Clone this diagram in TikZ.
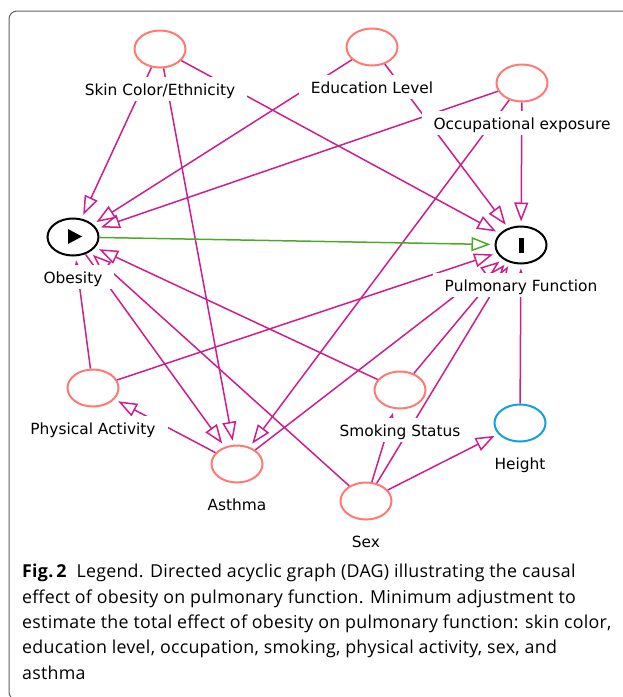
\documentclass[tikz,border=0pt]{standalone}
\usepackage{fontspec}
\setmainfont{Open Sans}[LetterSpace=1.5]
\newfontfamily\dagfont{DejaVu Sans}
\usepackage{tikz}
\usetikzlibrary{positioning, arrows.meta, shapes.geometric}

\definecolor{dagpink}{RGB}{204,30,140}
\definecolor{daggreen}{RGB}{76,170,40}
\definecolor{dagcoral}{RGB}{255,122,112}
\definecolor{dagblue}{RGB}{22,160,222}
\definecolor{framegray}{RGB}{95,95,95}

\begin{document}
\begin{tikzpicture}[x=1pt,y=-1pt,node distance=40pt,on grid,
    var/.style={ellipse,draw=dagcoral,line width=2pt,minimum width=51pt,minimum height=37pt,inner sep=0pt},
    expo/.style={var,draw=black},
    outc/.style={var,draw=black},
    anc/.style={var,draw=dagblue},
    lbl/.style={fill=white,font=\dagfont\fontsize{15.4}{17}\selectfont,text height=12pt,text depth=0pt,inner xsep=12pt,inner ysep=6pt},
    biased/.style={draw=dagpink,line width=1.5pt,-{Triangle[open,length=19pt,width=14pt]},shorten >=4pt},
    causal/.style={biased,draw=daggreen},
    caption/.style={align=left,font=\fontsize{17.8}{25.4}\selectfont,inner sep=0pt}]
        \useasboundingbox (0,0) rectangle (623,697);
        \clip (0,0) rectangle (623,697);
        \draw[framegray,line width=1pt,rounded corners=8pt] (9,11) rectangle (660,700);

        \node[var] (skin) at (160,49) {};
        \node[var] (educ) at (372,47) {};
        \node[var] (occu) at (522,83) {};
        \node[expo] (obes) at (73,237) {};
        \node[outc] (pulm) at (521,245) {};
        \node[var] (phys) at (93,388) {};
        \node[var] (asth) at (237,464) {};
        \node[var] (smok) at (400,390) {};
        \node[anc] (heig) at (520,423) {};
        \node[var] (sex) at (366,501) {};

        \path[biased]
        (skin) edge (obes)
               edge (asth)
               edge (pulm)
        (educ) edge (obes)
               edge (pulm)
        (occu) edge (obes)
               edge (pulm)
               edge (asth)
        (obes) edge (asth)
               edge [causal] (pulm)
        (phys) edge (obes)
               edge (pulm)
        (asth) edge (phys)
               edge (pulm)
        (smok) edge (obes)
               edge (pulm)
        (sex)  edge (obes)
               edge (smok)
               edge (pulm)
               edge (heig)
        (heig) edge (pulm);

        % exposure and outcome marks
        \fill (obes.center) ++(-5,-8) -- ++(14,7.5) -- ++(-14,7.5) -- cycle;
        \fill (pulm.center) ++(-2.5,-7.5) rectangle ++(5,15);

        \node[lbl,below=of skin] (skin_l) {Skin Color/Ethnicity};
        \node[lbl,below=of educ] (educ_l) {Education Level};
        \node[lbl,below=of occu] (occu_l) {Occupational exposure};
        \node[lbl,below=of obes] (obes_l) {Obesity};
        \node[lbl,below=of pulm] (pulm_l) {Pulmonary Function};
        \node[lbl,below=of phys] (phys_l) {Physical Activity};
        \node[lbl,below=of asth] (asth_l) {Asthma};
        \node[lbl,below=of smok] (smok_l) {Smoking Status};
        \node[lbl,below=of heig] (heig_l) {Height};
        \node[lbl,below=of sex] (sex_l) {Sex};

        \node[caption,anchor=north west] (cap) at (22,564) {\textbf{Fig.\,2}\hspace{0.55em}Legend. Directed acyclic graph (DAG) illustrating the causal\\
effect of obesity on pulmonary function. Minimum adjustment to\\
estimate the total effect of obesity on pulmonary function: skin color,\\
education level, occupation, smoking, physical activity, sex, and\\
asthma};
      \end{tikzpicture}
\end{document}
